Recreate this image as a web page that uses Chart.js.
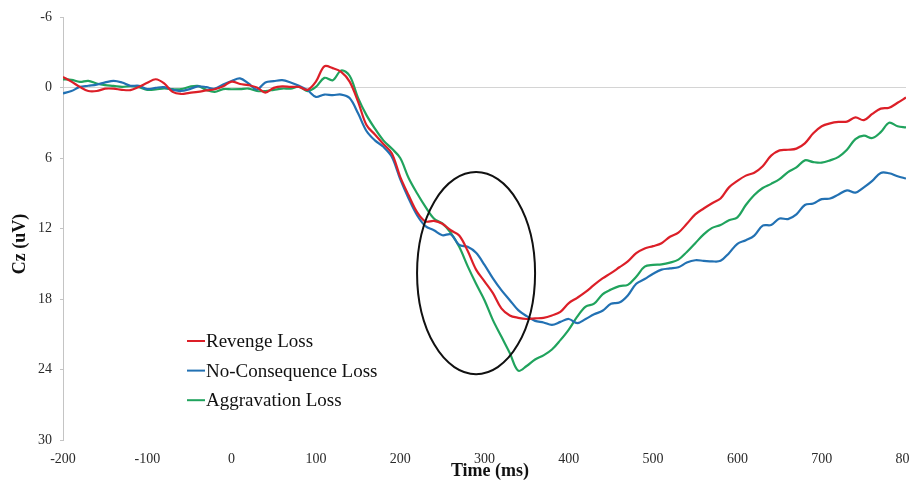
<!DOCTYPE html>
<html>
<head>
<meta charset="utf-8">
<script src="https://cdn.jsdelivr.net/npm/chart.js@4.4.0/dist/chart.umd.min.js"></script>
<style>
  html, body { margin: 0; padding: 0; background: #fff; overflow: hidden; }
  #wrap { width: 909px; height: 485px; }
</style>
</head>
<body>
<div id="wrap"><canvas id="erp" width="909" height="485"></canvas></div>
<script>
// grand-average Cz waveforms, one sample every 10 ms
const times = [
  -200, -190, -180, -170, -160, -150, -140, -130, -120, -110,
  -100, -90, -80, -70, -60, -50, -40, -30, -20, -10,
  0, 10, 20, 30, 40, 50, 60, 70, 80, 90,
  100, 110, 120, 130, 140, 150, 160, 170, 180, 190,
  200, 210, 220, 230, 240, 250, 260, 270, 280, 290,
  300, 310, 320, 330, 340, 350, 360, 370, 380, 390,
  400, 410, 420, 430, 440, 450, 460, 470, 480, 490,
  500, 510, 520, 530, 540, 550, 560, 570, 580, 590,
  600, 610, 620, 630, 640, 650, 660, 670, 680, 690,
  700, 710, 720, 730, 740, 750, 760, 770, 780, 790,
  800
];

const revenge = [
  -0.9, -0.5, -0.05, 0.3, 0.3, 0.1, 0.1, 0.2, 0.22, -0.05,
  -0.4, -0.7, -0.35, 0.37, 0.55, 0.45, 0.37, 0.25, 0.15, -0.1,
  -0.5, -0.3, -0.2, 0.0, 0.43, 0.03, -0.1, -0.05, -0.05, 0.2,
  -0.5, -1.8, -1.65, -1.33, -0.5, 1.2, 3.2, 4.0, 4.8, 5.6,
  7.6, 9.17, 10.6, 11.4, 11.35, 11.6, 12.15, 12.6, 13.9, 15.5,
  16.5, 17.5, 18.8, 19.4, 19.6, 19.7, 19.65, 19.6, 19.4, 19.1,
  18.35, 17.9, 17.4, 16.8, 16.25, 15.8, 15.3, 14.8, 14.1, 13.7,
  13.5, 13.25, 12.7, 12.35, 11.6, 10.8, 10.3, 9.85, 9.45, 8.5,
  7.95, 7.5, 7.25, 6.7, 5.8, 5.35, 5.3, 5.2, 4.75, 3.9,
  3.3, 3.05, 2.93, 2.9, 2.55, 2.78, 2.25, 1.8, 1.72, 1.3,
  0.85
];

const noConsequence = [
  0.5, 0.3, -0.05, -0.15, -0.25, -0.43, -0.57, -0.43, -0.15, -0.15,
  0.14, 0.03, -0.03, 0.2, 0.3, 0.14, -0.1, -0.03, 0.1, -0.25,
  -0.55, -0.77, -0.34, 0.17, -0.43, -0.54, -0.62, -0.43, -0.14, 0.23,
  0.8, 0.6, 0.65, 0.6, 0.9, 2.2, 3.7, 4.5, 5.05, 5.9,
  7.8, 9.45, 10.87, 11.8, 12.15, 12.57, 12.5, 13.4, 13.56, 14.07,
  15.1, 16.25, 17.25, 18.1, 18.95, 19.46, 19.86, 20.0, 20.2, 19.95,
  19.7, 20.05, 19.7, 19.3, 19.0, 18.4, 18.3, 17.7, 16.7, 16.3,
  15.85, 15.5, 15.4, 15.3, 14.9, 14.7, 14.75, 14.8, 14.75, 14.1,
  13.3, 13.0, 12.6, 11.75, 11.7, 11.15, 11.2, 10.8, 10.0, 9.87,
  9.5, 9.45, 9.1, 8.75, 8.95, 8.5, 7.95, 7.27, 7.3, 7.55,
  7.75
];

const aggravation = [
  -0.7, -0.65, -0.48, -0.57, -0.34, -0.2, -0.14, -0.06, -0.11, -0.03,
  0.2, 0.17, 0.08, 0.14, 0.14, -0.06, -0.14, 0.2, 0.37, 0.14,
  0.15, 0.14, 0.09, 0.3, 0.3, 0.2, 0.09, 0.09, -0.06, 0.3,
  -0.06, -0.82, -0.62, -1.45, -1.0, 0.88, 2.35, 3.5, 4.5, 5.2,
  6.0, 7.7, 9.0, 10.16, 11.15, 11.57, 12.37, 13.56, 15.2, 16.7,
  18.1, 19.8, 21.2, 22.6, 24.1, 23.7, 23.15, 22.8, 22.3, 21.5,
  20.6, 19.5, 18.65, 18.4, 17.6, 17.2, 16.9, 16.8, 16.1, 15.25,
  15.1, 15.05, 14.9, 14.65, 14.0, 13.25, 12.5, 11.95, 11.7, 11.3,
  11.05, 10.0, 9.15, 8.55, 8.2, 7.8, 7.2, 6.8, 6.2, 6.35,
  6.4, 6.2, 5.9, 5.3, 4.4, 4.1, 4.3, 3.8, 3.0, 3.3,
  3.4
];

const seriesNames = ['Revenge Loss', 'No-Consequence Loss', 'Aggravation Loss'];
const seriesData = [revenge, noConsequence, aggravation];
const seriesColors = ['#dc1f28', '#2271b3', '#20a35d'];

// ring drawn around the N2/P3 window, in data units (ms, uV)
const ring = { t: 290, v: 15.8, dt: 70, dv: 8.6 };

const serif = '"Liberation Serif", "Times New Roman", serif';

const overlay = {
  id: 'overlay',
  afterDatasetsDraw(chart) {
    const { ctx } = chart;
    const x = chart.scales.x, y = chart.scales.y;
    ctx.save();

    const cx = x.getPixelForValue(ring.t);
    const cy = y.getPixelForValue(ring.v);
    const rx = Math.abs(x.getPixelForValue(ring.t + ring.dt) - cx);
    const ry = Math.abs(y.getPixelForValue(ring.v + ring.dv) - cy);
    ctx.beginPath();
    ctx.ellipse(cx, cy, rx, ry, 0, 0, Math.PI * 2);
    ctx.lineWidth = 2;
    ctx.strokeStyle = '#111';
    ctx.stroke();

    // legend in the lower left of the plot
    ctx.font = '19px ' + serif;
    ctx.textBaseline = 'middle';
    ctx.textAlign = 'left';
    seriesNames.forEach((name, i) => {
      const ly = 341 + i * 29.6;
      ctx.beginPath();
      ctx.moveTo(187, ly);
      ctx.lineTo(205, ly);
      ctx.lineWidth = 2;
      ctx.strokeStyle = seriesColors[i];
      ctx.stroke();
      ctx.fillStyle = '#111';
      ctx.fillText(name, 206, ly + 1);
    });

    // axis titles
    ctx.font = 'bold 18px ' + serif;
    ctx.textAlign = 'center';
    ctx.fillText('Time (ms)', 490, 471);
    ctx.translate(20, 244);
    ctx.rotate(-Math.PI / 2);
    ctx.fillText('Cz (uV)', 0, 0);
    ctx.restore();
  }
};

new Chart(document.getElementById('erp'), {
  type: 'line',
  data: {
    datasets: seriesNames.map((name, i) => ({
      label: name,
      data: times.map((t, j) => ({ x: t, y: seriesData[i][j] })),
      borderColor: seriesColors[i],
      borderWidth: 2.2,
      pointRadius: 0,
      tension: 0.35,
      fill: false
    }))
  },
  options: {
    responsive: false,
    animation: false,
    events: [],
    layout: { padding: { top: 17, right: 3, left: 0, bottom: 0 } },
    plugins: { legend: { display: false }, tooltip: { enabled: false } },
    scales: {
      x: {
        type: 'linear',
        min: -200,
        max: 800,
        border: { display: false },
        grid: { display: false, drawTicks: false },
        ticks: { stepSize: 100, padding: 11, color: '#2a2a2a', font: { family: serif, size: 14 } },
        afterFit(s) { s.height = 45; s.paddingLeft = 0; s.paddingRight = 0; }
      },
      y: {
        min: -6,
        max: 30,
        reverse: true,
        border: { display: true, color: '#c4c4c4', width: 1 },
        grid: {
          color: c => (c.tick && c.tick.value === 0 ? '#d4d4d4' : 'rgba(0,0,0,0)'),
          tickColor: '#c4c4c4',
          tickLength: 3,
          lineWidth: 1
        },
        ticks: { stepSize: 6, padding: 8, color: '#2a2a2a', font: { family: serif, size: 14 } },
        afterFit(s) { s.width = 63; s.paddingTop = 0; s.paddingBottom = 0; }
      }
    }
  },
  plugins: [overlay]
});
</script>
</body>
</html>
